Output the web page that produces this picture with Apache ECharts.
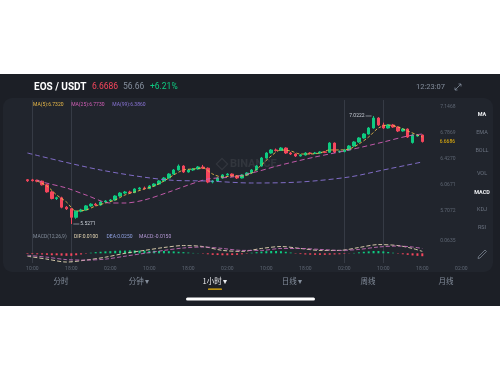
<!DOCTYPE html>
<html>
<head>
<meta charset="utf-8">
<script src="https://cdn.jsdelivr.net/npm/echarts/dist/echarts.min.js"></script>
<style>
html,body{margin:0;padding:0;background:#ffffff;}
#c{width:500px;height:380px;}
</style>
</head>
<body>
<div id="c"></div>
<script>
// EOS/USDT hourly candles: [open, close, low, high]
const candles = [
  [6.140, 6.126, 6.110, 6.150], [6.138, 6.128, 6.116, 6.152], [6.132, 6.120, 6.105, 6.142], [6.120, 6.070, 6.060, 6.128],
  [6.070, 5.972, 5.960, 6.080], [5.972, 5.880, 5.868, 5.985], [5.880, 5.890, 5.860, 5.905], [5.890, 5.760, 5.745, 5.905],
  [5.760, 5.738, 5.722, 5.775], [5.738, 5.620, 5.5271, 5.750], [5.620, 5.705, 5.600, 5.715], [5.705, 5.722, 5.690, 5.738],
  [5.722, 5.778, 5.712, 5.790], [5.778, 5.802, 5.765, 5.815], [5.802, 5.790, 5.778, 5.820], [5.790, 5.832, 5.782, 5.845],
  [5.832, 5.846, 5.820, 5.858], [5.846, 5.860, 5.835, 5.872], [5.860, 5.915, 5.852, 5.925], [5.915, 5.956, 5.905, 5.968],
  [5.956, 5.970, 5.942, 5.985], [5.970, 5.962, 5.948, 5.988], [5.962, 6.012, 5.955, 6.022], [6.012, 6.026, 6.000, 6.040],
  [6.026, 6.018, 6.005, 6.045], [6.018, 6.054, 6.010, 6.066], [6.054, 6.081, 6.042, 6.092], [6.081, 6.123, 6.072, 6.135],
  [6.123, 6.164, 6.115, 6.176], [6.164, 6.219, 6.155, 6.230], [6.219, 6.275, 6.210, 6.288], [6.275, 6.330, 6.268, 6.352],
  [6.330, 6.247, 6.235, 6.340], [6.247, 6.275, 6.238, 6.288], [6.275, 6.289, 6.262, 6.302], [6.289, 6.316, 6.280, 6.330],
  [6.316, 6.300, 6.288, 6.345], [6.300, 6.108, 6.092, 6.310], [6.108, 6.122, 6.090, 6.135], [6.122, 6.164, 6.115, 6.175],
  [6.164, 6.206, 6.155, 6.218], [6.206, 6.219, 6.195, 6.232], [6.219, 6.192, 6.180, 6.228], [6.192, 6.164, 6.150, 6.202],
  [6.164, 6.206, 6.158, 6.215], [6.206, 6.233, 6.198, 6.245], [6.233, 6.275, 6.225, 6.288], [6.275, 6.330, 6.268, 6.342],
  [6.330, 6.441, 6.322, 6.455], [6.441, 6.510, 6.432, 6.522], [6.510, 6.552, 6.500, 6.565], [6.552, 6.545, 6.530, 6.572],
  [6.545, 6.579, 6.538, 6.592], [6.579, 6.510, 6.498, 6.588], [6.510, 6.496, 6.482, 6.525], [6.496, 6.469, 6.455, 6.505],
  [6.469, 6.482, 6.460, 6.495], [6.482, 6.510, 6.475, 6.522], [6.510, 6.503, 6.490, 6.520], [6.503, 6.510, 6.495, 6.525],
  [6.510, 6.524, 6.500, 6.535], [6.524, 6.520, 6.508, 6.538], [6.520, 6.648, 6.512, 6.660], [6.648, 6.524, 6.510, 6.655],
  [6.524, 6.530, 6.512, 6.545], [6.530, 6.552, 6.520, 6.565], [6.552, 6.607, 6.545, 6.620], [6.607, 6.662, 6.598, 6.675],
  [6.662, 6.718, 6.652, 6.730], [6.718, 6.773, 6.708, 6.786], [6.773, 6.856, 6.765, 6.870], [6.856, 6.994, 6.848, 7.0222],
  [6.994, 6.898, 6.885, 7.005], [6.898, 6.856, 6.845, 6.930], [6.856, 6.898, 6.848, 6.910], [6.898, 6.870, 6.858, 6.912],
  [6.870, 6.815, 6.800, 6.880], [6.815, 6.842, 6.805, 6.855], [6.842, 6.731, 6.720, 6.850], [6.655, 6.759, 6.640, 6.772],
  [6.745, 6.759, 6.735, 6.770], [6.759, 6.6686, 6.655, 6.765]
];

// Moving averages, sampled every couple of candles: [candle index, value]
const ma5Points = [
  [2, 6.122], [4, 6.053], [6, 5.929], [8, 5.832], [10, 5.707], [12, 5.721], [14, 5.777], [16, 5.818],
  [18, 5.860], [20, 5.929], [22, 5.970], [24, 6.012], [26, 6.053], [28, 6.122], [30, 6.206], [32, 6.275],
  [34, 6.289], [36, 6.302], [38, 6.219], [40, 6.178], [42, 6.192], [44, 6.192], [46, 6.233], [48, 6.344],
  [50, 6.469], [52, 6.552], [54, 6.538], [56, 6.496], [58, 6.496], [60, 6.510], [62, 6.552], [64, 6.552],
  [66, 6.565], [68, 6.635], [70, 6.732], [72, 6.856], [74, 6.898], [76, 6.870], [78, 6.815], [80, 6.759], [81, 6.732]
];
const ma25Points = [
  [2, 6.136], [3, 6.109], [8, 6.026], [12, 5.929], [17, 5.818], [20, 5.818], [24, 5.860], [29, 5.970],
  [33, 6.067], [37, 6.150], [42, 6.178], [46, 6.233], [52, 6.344], [59, 6.455], [66, 6.552], [73, 6.662],
  [78, 6.745], [81, 6.773]
];
const ma99Points = [
  [0, 6.510], [15, 6.275], [29, 6.136], [37, 6.122], [46, 6.095], [56, 6.109], [66, 6.178], [73, 6.275], [81, 6.386]
];

// MACD(12,26,9)
const difPoints = [
  [0, -0.015], [4, -0.030], [8, -0.045], [12, -0.035], [16, -0.020], [20, 0.000], [24, 0.015], [28, 0.030],
  [32, 0.040], [36, 0.035], [40, 0.015], [44, 0.010], [48, 0.025], [52, 0.035], [56, 0.025], [60, 0.015],
  [64, 0.015], [68, 0.030], [72, 0.045], [76, 0.040], [79, 0.025], [81, 0.010]
];
const deaPoints = [
  [0, -0.010], [4, -0.020], [8, -0.0325], [12, -0.035], [16, -0.030], [20, -0.015], [24, 0.000], [28, 0.015],
  [32, 0.0275], [36, 0.0325], [40, 0.025], [44, 0.015], [48, 0.015], [52, 0.025], [56, 0.025], [60, 0.020],
  [64, 0.015], [68, 0.020], [72, 0.0325], [76, 0.0375], [79, 0.0325], [81, 0.025]
];
const macdHist = [
  -0.003, -0.004, -0.005, -0.006, -0.008, -0.010, -0.010, -0.012, -0.013, -0.013, -0.010, -0.006, -0.002, 0.003,
  0.006, 0.008, 0.010, 0.011, 0.013, 0.014, 0.014, 0.015, 0.015, 0.014, 0.014, 0.013, 0.013, 0.012, 0.012, 0.011,
  0.010, 0.008, 0.006, 0.004, 0.002, 0.001, -0.002, -0.005, -0.008, -0.009, -0.010, -0.010, -0.009, -0.008, -0.005,
  -0.002, 0.003, 0.006, 0.009, 0.011, 0.012, 0.012, 0.011, 0.008, 0.004, -0.002, -0.004, -0.006, -0.007, -0.008,
  -0.008, -0.008, -0.007, -0.006, -0.005, -0.003, -0.001, 0.002, 0.005, 0.008, 0.010, 0.012, 0.012, 0.010, 0.007,
  0.003, -0.002, -0.005, -0.008, -0.011, -0.013, -0.015
];

// Time axis: one label every 8 hourly slots, the axis runs a little past the last candle
const slotCount = 92;
const timeLabels = ['10:00', '18:00', '02:00', '10:00', '18:00', '02:00', '10:00', '18:00', '02:00', '10:00', '18:00', '02:00'];
const labelStart = 1, labelStep = 8;
const priceTicks = [7.1468, 6.7869, 6.4270, 6.0671, 5.7072];
const macdTicks = [0.0635];
const guideSlots = [1, 9, 65, 73];

const header = { pair: 'EOS / USDT', last: '6.6686', cny: '56.66', change: '+6.21%', clock: '12:23:07' };
const indicatorMenu = ['MA', 'EMA', 'BOLL', 'VOL', 'MACD', 'KDJ', 'RSI'];
const activeMenu = ['MA', 'MACD'];
const periodTabs = ['分时', '分钟 ▾', '1小时 ▾', '日线 ▾', '周线', '月线'];
const activeTab = 2;

const UP = '#0ECB81', DOWN = '#F6465D';
const C_MA5 = '#E9B949', C_MA25 = '#D35FB7', C_MA99 = '#8A74D6';
const C_DIF = '#E8D9B5', C_DEA = '#C46DB8';
const FONT = 'Roboto, "Noto Sans", sans-serif';
const CJK = '"Noto Sans CJK SC", sans-serif';

function spread(points, n) {
  const arr = new Array(n).fill(null);
  points.forEach(([i, v]) => { arr[i] = v; });
  return arr;
}

const categories = [];
for (let i = 0; i < slotCount; i++) {
  const k = (i - labelStart) / labelStep;
  categories.push(Number.isInteger(k) && k >= 0 && k < timeLabels.length ? timeLabels[k] : '');
}

const last = a => a[a.length - 1][1];
const lastClose = candles[candles.length - 1][1];

const chart = echarts.init(document.getElementById('c'), null, { width: 500, height: 380 });

const gridL = 25, gridR = 26.5;

function maLine(points, color, dash, xi) {
  return { type: 'line', xAxisIndex: xi, yAxisIndex: xi, data: spread(points, slotCount), connectNulls: true,
    smooth: 0.3, symbol: 'none', lineStyle: { color, width: 0.9, type: dash } };
}

const option = {
  backgroundColor: '#ffffff',
  animation: false,
  grid: [
    { left: gridL, right: gridR, top: 100, height: 132 },
    { left: gridL, right: gridR, top: 241, height: 22 }
  ],
  xAxis: [
    { type: 'category', gridIndex: 0, data: categories, boundaryGap: true,
      axisLine: { show: false }, axisTick: { show: false }, axisLabel: { show: false }, splitLine: { show: false } },
    { type: 'category', gridIndex: 1, data: categories, boundaryGap: true,
      axisLine: { show: false }, axisTick: { show: false }, splitLine: { show: false },
      axisLabel: { interval: 0, fontSize: 5, color: '#5E6673', fontFamily: FONT, margin: 3 } }
  ],
  yAxis: [
    { type: 'value', gridIndex: 0, position: 'right', min: 5.4168, max: 7.2436, scale: true,
      axisLine: { show: false }, axisTick: { show: false }, splitLine: { show: false },
      axisLabel: { inside: true, customValues: priceTicks, formatter: v => v.toFixed(4),
        fontSize: 5, color: '#5E6673', fontFamily: FONT, margin: 18 } },
    { type: 'value', gridIndex: 1, position: 'right', min: -0.05, max: 0.0635,
      axisLine: { show: false }, axisTick: { show: false }, splitLine: { show: false },
      axisLabel: { inside: true, customValues: macdTicks, formatter: v => v.toFixed(4),
        fontSize: 5, color: '#5E6673', fontFamily: FONT, margin: 18 } }
  ],
  series: [
    { type: 'candlestick', xAxisIndex: 0, yAxisIndex: 0, data: candles, barWidth: 3,
      itemStyle: { color: UP, color0: DOWN, borderColor: UP, borderColor0: DOWN, borderWidth: 1 } },
    maLine(ma5Points, C_MA5, [3, 2], 0),
    maLine(ma25Points, C_MA25, [5, 3], 0),
    maLine(ma99Points, C_MA99, [5, 3], 0),
    { type: 'bar', xAxisIndex: 1, yAxisIndex: 1, data: macdHist, barWidth: 2,
      itemStyle: { color: p => (p.value >= 0 ? UP : DOWN) } },
    maLine(difPoints, C_DIF, [4, 2], 1),
    maLine(deaPoints, C_DEA, [4, 2], 1)
  ]
};
chart.setOption(option);

// Frame, header, indicator readouts and menus drawn around the plot
const g = [];
g.push({ type: 'rect', z: -20, shape: { x: 0, y: 74, width: 500, height: 232 }, style: { fill: '#1C1F26' } });
g.push({ type: 'rect', z: -19, shape: { x: 3, y: 98, width: 490, height: 174, r: 9 }, style: { fill: '#21252D' } });

// watermark
g.push({ type: 'rect', z: -18, x: 222, y: 164, rotation: Math.PI / 4,
  shape: { x: -4, y: -4, width: 8, height: 8 }, style: { fill: 'none', stroke: 'rgba(255,255,255,0.08)', lineWidth: 1.2 } });
g.push({ type: 'text', z: -18, x: 230, y: 164, style: { text: 'BINANCE', fill: 'rgba(255,255,255,0.08)',
  font: `bold 11px ${FONT}`, verticalAlign: 'middle' } });

// header
let hx = 34;
const headerRow = [
  [header.pair, '#FFFFFF', `bold 10px ${FONT}`, 58],
  [header.last, DOWN, `8.5px ${FONT}`, 31],
  [header.cny, '#848E9C', `8.5px ${FONT}`, 27],
  [header.change, UP, `8.5px ${FONT}`, 0]
];
headerRow.forEach(([t, c, f, w]) => {
  g.push({ type: 'text', x: hx, y: 87, style: { text: t, fill: c, font: f, verticalAlign: 'middle' } });
  hx += w;
});
g.push({ type: 'text', x: 445, y: 87, style: { text: header.clock, fill: '#848E9C', font: `7.5px ${FONT}`, align: 'right', verticalAlign: 'middle' } });
// expand icon
g.push({ type: 'polyline', shape: { points: [[455, 90], [461, 84]] }, style: { stroke: '#848E9C', lineWidth: 0.8 } });
g.push({ type: 'polyline', shape: { points: [[458.5, 84], [461, 84], [461, 86.5]] }, style: { stroke: '#848E9C', lineWidth: 0.8, fill: 'none' } });
g.push({ type: 'polyline', shape: { points: [[455, 87.5], [455, 90], [457.5, 90]] }, style: { stroke: '#848E9C', lineWidth: 0.8, fill: 'none' } });

// MA readouts
let mx = 33;
[[`MA(5):${last(ma5Points).toFixed(4)}`, C_MA5], [`MA(25):${last(ma25Points).toFixed(4)}`, C_MA25], [`MA(99):${last(ma99Points).toFixed(4)}`, C_MA99]]
  .forEach(([t, c]) => {
    g.push({ type: 'text', x: mx, y: 105, style: { text: t, fill: c, font: `5px ${FONT}`, verticalAlign: 'middle' } });
    mx += t.length * 2.85 + 4;
  });

// MACD readouts
let dx = 33;
[[`MACD(12,26,9)`, '#848E9C'], [`DIF:${last(difPoints).toFixed(4)}`, C_DIF], [`DEA:${last(deaPoints).toFixed(4)}`, '#8FA0E0'],
 [`MACD:${macdHist[macdHist.length - 1].toFixed(4)}`, '#B79AD8']]
  .forEach(([t, c]) => {
    g.push({ type: 'text', x: dx, y: 237, style: { text: t, fill: c, font: `5px ${FONT}`, verticalAlign: 'middle' } });
    dx += t.length * 2.85 + 4;
  });

// right-hand indicator menu
const menuY = [115, 133, 151, 174, 193, 210, 228];
indicatorMenu.forEach((t, i) => {
  const on = activeMenu.includes(t);
  g.push({ type: 'text', x: 482, y: menuY[i], style: { text: t, fill: on ? '#EAECEF' : '#6B7380',
    font: `${on ? 'bold ' : ''}5.5px ${FONT}`, align: 'center', verticalAlign: 'middle' } });
});
// pencil
g.push({ type: 'polyline', shape: { points: [[478.5, 256.5], [485, 250], [486.5, 251.5], [480, 258], [478, 258.5], [478.5, 256.5]] },
  style: { stroke: '#848E9C', lineWidth: 0.7, fill: 'none' } });

// period tabs
const tabX = [61, 139, 215, 292, 368, 446];
periodTabs.forEach((t, i) => {
  g.push({ type: 'text', x: tabX[i], y: 281, style: { text: t, fill: i === activeTab ? '#EAECEF' : '#848E9C',
    font: `7.5px ${CJK}`, align: 'center', verticalAlign: 'middle' } });
});
g.push({ type: 'rect', shape: { x: 208, y: 288.5, width: 14, height: 1.3, r: 0.6 }, style: { fill: '#F0B90B' } });
g.push({ type: 'rect', shape: { x: 186, y: 297.5, width: 129, height: 3, r: 1.5 }, style: { fill: '#FFFFFF' } });

// vertical guide lines through both panes
guideSlots.forEach(s => {
  const x = Math.round(chart.convertToPixel({ xAxisIndex: 0 }, s)) + 0.5;
  g.push({ type: 'line', z: -5, shape: { x1: x, y1: 100, x2: x, y2: 263 }, style: { stroke: 'rgba(132,142,156,0.22)', lineWidth: 1 } });
});

// current price tag
const py = chart.convertToPixel({ yAxisIndex: 0 }, lastClose);
g.push({ type: 'text', x: 455, y: py, style: { text: lastClose.toFixed(4), fill: '#F0B90B', font: `5px ${FONT}`, align: 'right', verticalAlign: 'middle' } });

// highest / lowest markers
let hiI = 0, loI = 0;
candles.forEach((c, i) => { if (c[3] > candles[hiI][3]) hiI = i; if (c[2] < candles[loI][2]) loI = i; });
const hp = chart.convertToPixel({ xAxisIndex: 0, yAxisIndex: 0 }, [hiI, candles[hiI][3]]);
const lp = chart.convertToPixel({ xAxisIndex: 0, yAxisIndex: 0 }, [loI, candles[loI][2]]);
g.push({ type: 'line', shape: { x1: hp[0] - 2, y1: hp[1], x2: hp[0] - 8, y2: hp[1] }, style: { stroke: '#C9CED6', lineWidth: 0.6 } });
g.push({ type: 'text', x: hp[0] - 9, y: hp[1], style: { text: candles[hiI][3].toFixed(4), fill: '#C9CED6', font: `5px ${FONT}`, align: 'right', verticalAlign: 'middle' } });
g.push({ type: 'line', shape: { x1: lp[0] + 2, y1: lp[1], x2: lp[0] + 8, y2: lp[1] }, style: { stroke: '#C9CED6', lineWidth: 0.6 } });
g.push({ type: 'text', x: lp[0] + 9, y: lp[1], style: { text: candles[loI][2].toFixed(4), fill: '#C9CED6', font: `5px ${FONT}`, verticalAlign: 'middle' } });

chart.setOption({ graphic: { elements: g } });
</script>
</body>
</html>
